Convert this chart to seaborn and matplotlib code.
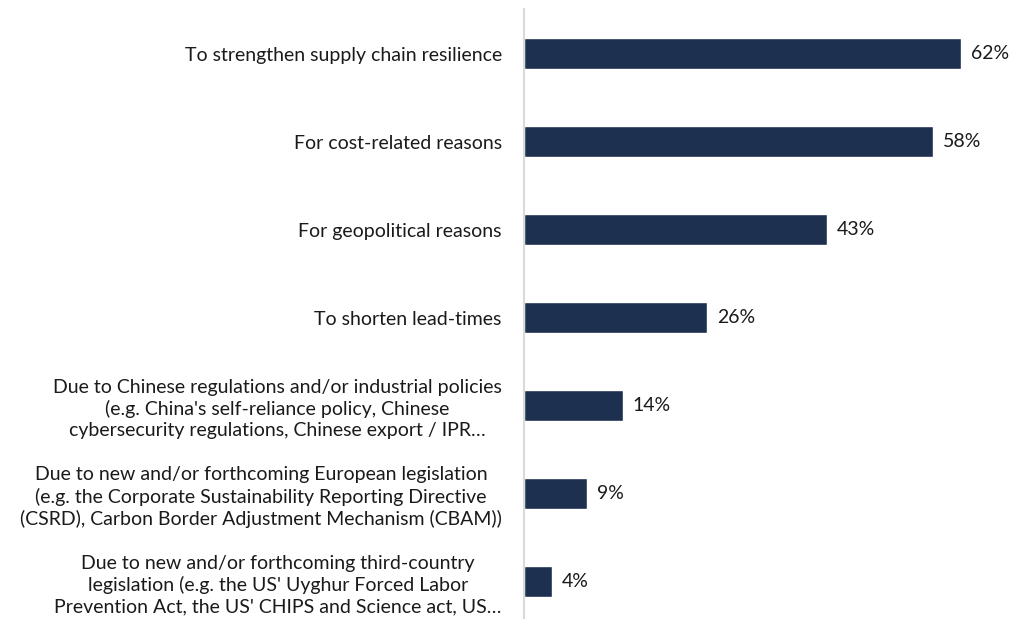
import matplotlib
matplotlib.use("Agg")
import matplotlib.pyplot as plt
import seaborn as sns
import pandas as pd

sns.set_style("white")
plt.rcParams['font.family'] = ['Lato', 'DejaVu Sans']

# data
reasons = [
    "To strengthen supply chain resilience",
    "For cost-related reasons",
    "For geopolitical reasons",
    "To shorten lead-times",
    "Due to Chinese regulations and/or industrial policies\n(e.g. China's self-reliance policy, Chinese\ncybersecurity regulations, Chinese export / IPR\u2026",
    "Due to new and/or forthcoming European legislation\n(e.g. the Corporate Sustainability Reporting Directive\n(CSRD), Carbon Border Adjustment Mechanism (CBAM))",
    "Due to new and/or forthcoming third-country\nlegislation (e.g. the US' Uyghur Forced Labor\nPrevention Act, the US' CHIPS and Science act, US\u2026",
]
shares = [62, 58, 43, 26, 14, 9, 4]

df = pd.DataFrame({"reason": reasons, "share": shares})

fig = plt.figure(figsize=(10.15, 6.19), dpi=100)
ax = fig.add_axes([524 / 1015, 0, 491 / 1015, 609.5 / 619])

sns.barplot(data=df, x="share", y="reason", color="#1d3050",
            width=0.35, saturation=1, ax=ax)

for i, v in enumerate(shares):
    ax.text(v + 1.4, i, f"{v}%", va="center", ha="left", fontsize=14, color="#1a1a1a")

ax.set_xlim(0, 69.6)
ax.set_ylim(6.426, -0.5)
ax.set_xlabel("")
ax.set_ylabel("")
ax.set_xticks([])
ax.tick_params(axis="y", length=0, pad=16, labelsize=14, labelcolor="#1a1a1a")
for lbl in ax.get_yticklabels():
    lbl.set_multialignment("center")
    lbl.set_linespacing(1.3)

for s in ["top", "right", "bottom"]:
    ax.spines[s].set_visible(False)
ax.spines["left"].set_color("#d9d9d9")
ax.spines["left"].set_linewidth(1.5)

plt.savefig("out.png", dpi=100)
